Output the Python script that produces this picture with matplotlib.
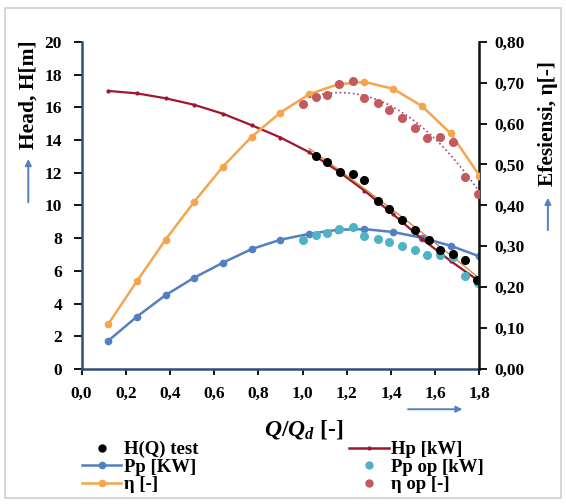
import matplotlib.pyplot as plt
import numpy as np
from matplotlib.patches import Rectangle, FancyArrowPatch
from matplotlib.lines import Line2D

plt.rcParams['font.family'] = ['Liberation Serif', 'DejaVu Serif']
plt.rcParams['font.weight'] = 'bold'
plt.rcParams['mathtext.fontset'] = 'custom'
plt.rcParams['mathtext.it'] = 'Liberation Serif:italic:bold'
plt.rcParams['mathtext.rm'] = 'Liberation Serif:bold'

# --- data ---
q_curve = [0.12, 0.25, 0.38, 0.51, 0.64, 0.77, 0.90, 1.03, 1.16, 1.28, 1.41, 1.54, 1.67, 1.80]
hp = [17.0, 16.85, 16.55, 16.15, 15.6, 14.9, 14.15, 13.25, 12.1, 10.9, 9.45, 7.95, 6.6, 5.35]
pp = [1.71, 3.19, 4.51, 5.58, 6.50, 7.33, 7.90, 8.26, 8.51, 8.55, 8.37, 8.02, 7.53, 6.88]
eta = [0.109, 0.214, 0.316, 0.409, 0.495, 0.568, 0.627, 0.672, 0.696, 0.702, 0.685, 0.643, 0.576, 0.473]

q_test = [1.06, 1.11, 1.17, 1.23, 1.28, 1.34, 1.39, 1.45, 1.51, 1.57, 1.62, 1.68, 1.735, 1.79]
h_test = [13.0, 12.63, 12.04, 11.92, 11.55, 10.29, 9.75, 9.08, 8.47, 7.90, 7.29, 7.05, 6.68, 5.42]

q_op = [1.00, 1.06, 1.11, 1.165, 1.23, 1.28, 1.34, 1.39, 1.45, 1.51, 1.565, 1.62, 1.68, 1.735, 1.795]
pp_op = [7.9, 8.2, 8.3, 8.55, 8.65, 8.1, 7.95, 7.75, 7.5, 7.25, 6.95, 6.95, 6.85, 5.7, 5.25]
eta_op = [0.647, 0.664, 0.671, 0.698, 0.705, 0.662, 0.650, 0.634, 0.613, 0.590, 0.565, 0.567, 0.556, 0.470, 0.427]

xticks = np.arange(0, 1.81, 0.2)
eta_ticks = np.arange(0, 0.81, 0.1)

c_orange = '#f5a54c'
c_blue = '#5380c0'
c_cyan = '#4fb3c8'
c_red = '#c55a5e'
c_dred = '#a0172c'
c_axis = '#2f4f7f'

fig = plt.figure(figsize=(5.66, 5.04), dpi=100)
fig.patches.append(Rectangle((0.008, 0.012), 0.984, 0.972, transform=fig.transFigure,
                             fill=False, edgecolor='#d0d0d0', lw=1.2))

ax = fig.add_axes([0.144, 0.268, 0.703, 0.649])
ax2 = ax.twinx()

# left axis: head and power
ax.plot(q_curve, pp, color=c_blue, lw=1.8, marker='o', ms=4.5, zorder=3)
ax.plot(q_curve, hp, color=c_dred, lw=1.6, marker='o', ms=2, zorder=4)
# trend of the test points
tr = np.polyfit(q_test, h_test, 2)
qq = np.linspace(1.03, 1.8, 50)
ax.plot(qq, np.polyval(tr, qq), color='#c9903f', lw=1.0, zorder=5)
ax.plot(q_test, h_test, 'o', color='black', ms=5.5, zorder=6)
ax.plot(q_op, pp_op, 'o', color=c_cyan, ms=5.5, zorder=5)

# right axis: efficiency
ax2.plot(q_curve, eta, color=c_orange, lw=1.8, marker='o', ms=4.5, zorder=3)
tr2 = np.polyfit(q_op, eta_op, 2)
qq2 = np.linspace(1.03, 1.8, 60)
ax2.plot(qq2, np.polyval(tr2, qq2), ':', color='#9c4a6e', lw=1.2, zorder=4)
ax2.plot(q_op, eta_op, 'o', color=c_red, ms=5.5, zorder=5)

ax.set_xlim(0, 1.8)
ax.set_ylim(0, 20)
ax2.set_ylim(0, 0.8)
ax.set_xticks(xticks)
ax.set_xticklabels([f'{v:.1f}'.replace('.', ',') for v in xticks])
ax.set_yticks(range(0, 21, 2))
ax2.set_yticks(eta_ticks)
ax2.set_yticklabels([f'{v:.2f}'.replace('.', ',') for v in eta_ticks])

for a in (ax, ax2):
    a.spines['top'].set_visible(False)
    a.tick_params(labelsize=12.5, width=1.3, length=6)
ax.spines['left'].set_color(c_axis)
ax.spines['bottom'].set_color(c_axis)
ax.spines['left'].set_linewidth(1.8)
ax.spines['bottom'].set_linewidth(1.8)
ax2.spines['left'].set_visible(False)
ax2.spines['bottom'].set_visible(False)
ax2.spines['right'].set_linewidth(1.8)
ax2.spines['right'].set_color('#111111')
ax.tick_params(axis='x', length=4, pad=8)
ax.tick_params(axis='y', pad=8)
ax2.tick_params(axis='y', pad=5)

# axis labels with arrows
fig.text(0.05, 0.813, 'Head, H[m]', rotation=90, ha='center', va='center',
         fontsize=15.5, fontweight='bold')
fig.text(0.968, 0.754, 'Efesiensi, η[-]', rotation=90, ha='center', va='center',
         fontsize=15.5, fontweight='bold')
fig.text(0.537, 0.147, r'$Q/Q_d$ [-]', ha='center', va='center', fontsize=17)

for p0, p1 in [((0.05, 0.593), (0.05, 0.690)),
               ((0.968, 0.538), (0.968, 0.613)),
               ((0.716, 0.188), (0.822, 0.188))]:
    fig.patches.append(FancyArrowPatch(p0, p1, transform=fig.transFigure,
                                       arrowstyle='-|>', mutation_scale=9,
                                       color=c_blue, lw=1.4))

h_left = [
    Line2D([], [], ls='none', marker='o', color='black', ms=5),
    Line2D([], [], color=c_blue, lw=1.8, marker='o', ms=4.5),
    Line2D([], [], color=c_orange, lw=1.8, marker='o', ms=4.5),
]
h_right = [
    Line2D([], [], color=c_dred, lw=1.8, marker='o', ms=2),
    Line2D([], [], ls='none', marker='o', color=c_cyan, ms=5),
    Line2D([], [], ls='none', marker='o', color=c_red, ms=5),
]
lab_left = ['H(Q) test', 'Pp [KW]', 'η [-]']
lab_right = ['Hp [kW]', 'Pp op [kW]', 'η op [-]']
for hs, ls, x0 in [(h_left, lab_left, 0.145), (h_right, lab_right, 0.617)]:
    fig.legend(hs, ls, loc='center left', bbox_to_anchor=(x0, 0.073),
               frameon=False, fontsize=13.5, handlelength=2.1, handletextpad=0.15,
               labelspacing=0.02, borderpad=0, borderaxespad=0)

fig.savefig('out.png', dpi=100)
